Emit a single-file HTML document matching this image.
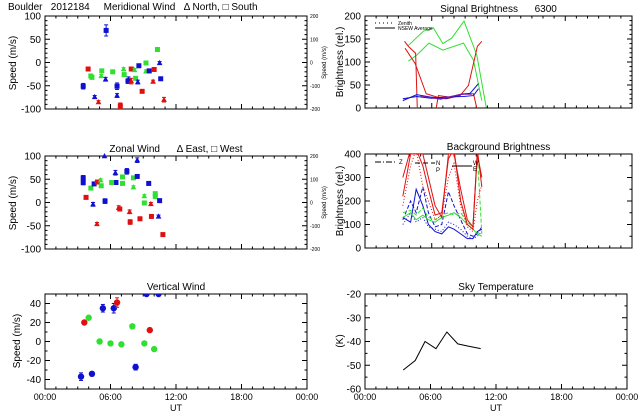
<!DOCTYPE html>
<html><head><meta charset="utf-8"><style>
html,body{margin:0;padding:0;background:#fff;}
svg{display:block;font-family:"Liberation Sans",sans-serif;}
svg text{white-space:pre;}
</style></head><body>
<svg id="chart" width="640" height="420" viewBox="0 0 640 420" xmlns="http://www.w3.org/2000/svg" xml:space="preserve"></svg>
<script>
// ---- data ----
const merT=[3.5,3.95,4.2,4.3,4.55,4.9,5.2,5.15,5.55,5.6,6.2,6.6,6.6,7.2,7.25,6.9,7.6,7.65,7.9,7.9,8.2,8.3,8.5,8.6,8.9,9.25,9.25,9.55,10.0,9.9,10.3,10.5,10.6,10.9];
const merV=[-51,-14,-29,-32,-74,-85,-18,-29,-36,69,-20,-51,-71,-14,-26,-93,-40,-36,-14,-40,-16,-34,-42,-7,-62,-1,-19,-18,-15,-41,28,-1,-35,-80];
const merC=["b","r","g","g","b","r","g","g","b","b","g","b","b","g","g","r","b","b","r","r","g","g","b","b","r","g","g","b","r","r","g","b","b","r"];
const merS=["s","s","s","s","t","t","s","t","t","s","s","s","t","t","s","s","s","t","s","t","t","s","t","s","s","s","t","s","s","t","s","t","s","t"];
const merE=[6,3,3,3,3,3,3,3,4,12,3,7,4,3,3,6,5,5,4,6,3,3,4,3,3,3,3,4,3,3,4,3,3,5];

const zonT=[3.5,3.5,3.76,4.2,4.4,4.5,4.8,4.76,5.1,5.15,5.5,5.45,6.45,6.5,6.1,6.75,6.85,7.1,7.1,7.5,7.75,7.8,8.1,8.1,8.45,8.45,8.7,9.1,9.1,9.5,9.7,9.75,10.1,10.1,10.5,10.4,10.8];
const zonV=[53,43,11,31,-4,40,44,-46,48,36,3,100,64,43,43,-11,-14,55,41,67,-20,-42,53,33,56,91,-35,14,-1,41,-3,-30,19,13,4,-30,-69];
const zonC=["b","b","r","g","b","b","r","r","g","g","b","b","b","b","g","r","r","g","g","b","r","r","g","g","b","b","r","g","g","b","r","r","g","g","b","b","r"];
const zonS=["s","s","s","s","t","s","s","t","t","s","s","t","t","s","s","t","s","s","s","s","t","s","s","t","s","t","s","t","s","s","t","s","s","s","s","t","s"];
const zonE=[5,5,3,3,4,3,3,3,3,3,5,3,5,3,3,4,3,3,3,6,4,5,3,3,3,5,3,3,3,3,3,3,3,3,3,3,3];

const verT=[3.3,4.3,3.6,4.0,5.3,6.3,6.6,5.0,6.0,7.0,8.3,8.0,9.1,9.6,10.0,9.3,10.4];
const verV=[-37,-34,20,25,35,35,41,0,-2,-3,-27,16,-2,12,-8,50,50];
const verC=["b","b","r","g","b","b","r","g","g","g","b","g","g","r","g","b","b"];
const verE=[4,2,1,1,4,5,5,1,1,1,3,1,1,2,1,1,1];

const skyT=[3.5,4.6,5.5,6.5,7.5,8.5,9.5,10.6];
const skyV=[-52,-48,-40,-43,-36,-41,-42,-43];

const sigGreen1T=[3.9,5.25,6.15,7.0,7.8,8.9,10.05,10.9];
const sigGreen1V=[136,167,174,140,152,189,115,1];
const sigGreen2T=[3.9,4.65,5.75,7.0,8.85,9.75,10.5];
const sigGreen2V=[102,115,141,126,141,104,16];
const sigRed1T=[3.55,3.9,4.55,4.7];
const sigRed1V=[145,134,119,0];
const sigRed2T=[3.6,4.5,5.5,6.45,7.35,8.55,9.3,10.1,10.5];
const sigRed2V=[130,97,31,24,20,27,49,134,145];
const sigRed3T=[6.4,6.6,7.5,8.85,9.75,10.05];
const sigRed3V=[0,27,24,31,31,0];
const sigBlue1T=[3.4,4.65,5.85,7.2,8.55,9.45,10.2];
const sigBlue1V=[16,29,24,20,29,32,53];
const sigBlue2T=[3.4,4.65,6.0,7.35,8.85,9.75,10.2];
const sigBlue2V=[20,25,21,24,25,27,42];
const sigPurpT=[5.0,6.0,6.8,7.6,8.6,9.6];
const sigPurpV=[26,22,19,24,30,30];

const bgT=[3.4,4.1,4.6,5.2,5.7,6.3,6.9,7.5,8.0,8.6,9.2,9.7,10.1,10.5];
const bgRed1=[220,400,400,400,300,180,130,400,400,250,120,90,400,300];
const bgRed2=[300,420,420,350,250,140,150,380,420,200,100,80,420,260];
const bgRed3=[180,350,420,260,200,120,140,300,360,180,90,70,200,270];
const bgBlue1=[130,110,250,180,100,70,60,90,80,60,40,40,70,80];
const bgBlue2=[120,200,150,260,150,90,100,240,180,120,60,50,60,90];
const bgBlue3=[100,150,110,130,90,80,70,110,100,80,50,40,50,70];
const bgGreen1=[150,160,140,170,130,120,140,150,140,150,110,90,400,60];
const bgGreen2=[130,150,120,140,120,110,130,140,150,130,100,80,60,50];

const xTickLabels=["00:00","06:00","12:00","18:00","00:00"];
const merTicks=[100,50,0,-50,-100];
const merRTicks=["200","100","0","-100","-200"];
const verTicks=[40,20,0,-20,-40];
const sigTicks=[200,150,100,50,0];
const bgTicks=[400,300,200,100,0];
const skyTicks=[-20,-30,-40,-50,-60];

// ---- drawing ----
const NS="http://www.w3.org/2000/svg";
const svg=document.getElementById("chart");
const COL={r:"#e01010",g:"#30e030",b:"#1010d0",p:"#8020a0",k:"#000"};
function el(tag,attrs,parent){const e=document.createElementNS(NS,tag);for(const k in attrs)e.setAttribute(k,attrs[k]);(parent||svg).appendChild(e);return e;}
function txt(x,y,s,size,anchor,parent,rot){const t=el("text",{x:x,y:y,"font-size":size,"text-anchor":anchor||"start",fill:"#000"},parent);if(rot)t.setAttribute("transform","rotate(-90 "+x+" "+y+")");t.textContent=s;return t;}

function panel(name,x0,x1,y0,y1,ymin,ymax,yTicks,minorStep,title,showX){
  const g=el("g",{});
  
  
  const P={g,x0,x1,y0,y1,ymin,ymax,
    sx:h=>x0+(h/24)*(x1-x0),
    sy:v=>y1-(v-ymin)/(ymax-ymin)*(y1-y0)};
  const fr=el("rect",{x:x0,y:y0,width:x1-x0,height:y1-y0,fill:"none",stroke:"#000","stroke-width":1},g);
  
  
  for(let h=0;h<=24;h++){const X=P.sx(h);const L=(h%6===0)?5:2.5;
    el("line",{x1:X,x2:X,y1:y1,y2:y1-L,stroke:"#000"},g);el("line",{x1:X,x2:X,y1:y0,y2:y0+L,stroke:"#000"},g);}
  for(let v=ymin;v<=ymax+1e-9;v+=minorStep){const Y=P.sy(v);
    const major=yTicks.some(t=>Math.abs(t-v)<1e-6);const L=major?5:2.5;
    el("line",{x1:x0,x2:x0+L,y1:Y,y2:Y,stroke:"#000"},g);el("line",{x1:x1,x2:x1-L,y1:Y,y2:Y,stroke:"#000"},g);}
  const yl=el("g",{},g);
  
  
  yTicks.forEach(t=>txt(x0-4,P.sy(t)+3.5,String(t),10,"end",yl));
  if(showX){const xl=el("g",{},g);
    
    
    xTickLabels.forEach((s,i)=>txt(P.sx(i*6),y1+11,s,9,"middle",xl));
    const ut=txt((x0+x1)/2,y1+22,"UT",9,"middle",g);
    
    }
  if(title){const tt=txt((x0+x1)/2,y0-4,title,10,"middle",g);
    
    }
  return P;
}
function marker(P,t,v,c,s,e,parent){
  const X=P.sx(t),Y=P.sy(Math.max(P.ymin,Math.min(P.ymax,v)));const col=COL[c];
  if(e>1){const e1=P.sy(Math.min(P.ymax,v+e)),e2=P.sy(Math.max(P.ymin,v-e));
    el("line",{x1:X,x2:X,y1:e1,y2:e2,stroke:col},parent);
    el("line",{x1:X-2,x2:X+2,y1:e1,y2:e1,stroke:col},parent);
    el("line",{x1:X-2,x2:X+2,y1:e2,y2:e2,stroke:col},parent);}
  let m;
  if(s==="t")m=el("polygon",{points:(X-2)+","+(Y+1.7)+" "+(X+2)+","+(Y+1.7)+" "+X+","+(Y-2),fill:col,stroke:col},parent);
  else if(s==="c")m=el("circle",{cx:X,cy:Y,r:3.2,fill:col},parent);
  else m=el("rect",{x:X-2,y:Y-2,width:4,height:4,fill:col,stroke:col},parent);
  
  
}
function line(P,T,V,c,dash,parent){
  const pts=T.map((t,i)=>P.sx(t)+","+P.sy(V[i])).join(" ");
  const l=el("polyline",{points:pts,fill:"none",stroke:COL[c],"stroke-width":1},parent);
  if(dash)l.setAttribute("stroke-dasharray",dash);
  
  
  return l;
}
function rightAxis(P,labels){
  const g=el("g",{},P.g);
  
  
  labels.forEach((s,i)=>txt(P.x1+3,P.y0+2+i*(P.y1-P.y0)/4,s,5,"start",g));
  txt(P.x1+19,(P.y0+P.y1)/2,"Speed (m/s)",6,"middle",g,true);
}
function clipFor(P,id){const cp=el("clipPath",{id});el("rect",{x:P.x0,y:P.y0,width:P.x1-P.x0,height:P.y1-P.y0},cp);return "url(#"+id+")";}

// Meridional
const P1=panel("meridional-wind-panel",45,307,16,109,-100,100,merTicks,10,"",false);
const t1=txt(8,10,"Boulder   2012184     Meridional Wind   \u0394 North, \u25A1 South",10,"start",P1.g);


txt(16,63,"Speed (m/s)",10,"middle",P1.g,true);
rightAxis(P1,merRTicks);
const m1=el("g",{},P1.g);


merT.forEach((t,i)=>marker(P1,t,merV[i],merC[i],merS[i],merE[i],m1));

// Zonal
const P2=panel("zonal-wind-panel",45,307,156,249,-100,100,merTicks,10,"Zonal Wind      \u0394 East, \u25A1 West",false);
txt(16,203,"Speed (m/s)",10,"middle",P2.g,true);
rightAxis(P2,merRTicks);
const m2=el("g",{},P2.g);


zonT.forEach((t,i)=>marker(P2,t,zonV[i],zonC[i],zonS[i],zonE[i],m2));

// Vertical
const P3=panel("vertical-wind-panel",45,307,294,389,-50,50,verTicks,10,"Vertical Wind",true);
txt(20,341,"Speed (m/s)",10,"middle",P3.g,true);
const m3=el("g",{"clip-path":clipFor(P3,"c3")},P3.g);


verT.forEach((t,i)=>marker(P3,t,verV[i],verC[i],"c",verE[i],m3));

// Signal brightness
const P4=panel("signal-brightness-panel",365,632,16,108,0,200,sigTicks,10,"Signal Brightness      6300",false);
txt(343,62,"Brightness (rel.)",10,"middle",P4.g,true);
const l4=el("g",{"clip-path":clipFor(P4,"c4")},P4.g);
line(P4,sigGreen1T,sigGreen1V,"g",null,l4);line(P4,sigGreen2T,sigGreen2V,"g",null,l4);
line(P4,sigRed1T,sigRed1V,"r",null,l4);line(P4,sigRed2T,sigRed2V,"r",null,l4);line(P4,sigRed3T,sigRed3V,"r",null,l4);
line(P4,sigBlue1T,sigBlue1V,"b",null,l4);line(P4,sigBlue2T,sigBlue2V,"b",null,l4);line(P4,sigPurpT,sigPurpV,"p",null,l4);
const lg=el("g",{},P4.g);


el("line",{x1:375,x2:395,y1:23,y2:23,stroke:"#000","stroke-dasharray":"1,3"},lg);
txt(398,25,"Zenith",5,"start",lg);
el("line",{x1:375,x2:395,y1:28,y2:28,stroke:"#000"},lg);
txt(398,30,"NSEW Average",5,"start",lg);

// Background brightness
const P5=panel("background-brightness-panel",365,632,154,248,0,400,bgTicks,50,"Background Brightness",false);
txt(343,201,"Brightness (rel.)",10,"middle",P5.g,true);
const l5=el("g",{"clip-path":clipFor(P5,"c5")},P5.g);
line(P5,bgT,bgBlue1,"b",null,l5);line(P5,bgT,bgBlue2,"b","4,2",l5);line(P5,bgT,bgBlue3,"b","1,2",l5);
line(P5,bgT,bgGreen1,"g","4,2",l5);line(P5,bgT,bgGreen2,"g",null,l5);
line(P5,bgT,bgRed1,"r",null,l5);line(P5,bgT,bgRed2,"r",null,l5);line(P5,bgT,bgRed3,"r","1,2",l5);
const lg2=el("g",{},P5.g);


el("line",{x1:375,x2:395,y1:162,y2:162,stroke:"#000","stroke-dasharray":"6,2,1,2"},lg2);
txt(399,164,"Z",6,"start",lg2);
el("line",{x1:415,x2:435,y1:163,y2:163,stroke:"#000","stroke-dasharray":"5,3"},lg2);
txt(436,165,"N",6,"start",lg2);txt(436,172,"P",6,"start",lg2);
el("line",{x1:452,x2:472,y1:166,y2:166,stroke:"#000"},lg2);
txt(473,165,"W",6,"start",lg2);txt(473,171,"E",6,"start",lg2);

// Sky temperature
const P6=panel("sky-temperature-panel",365,627,294,389,-60,-20,skyTicks,5,"Sky Temperature",true);
txt(343,341,"(K)",10,"middle",P6.g,true);
line(P6,skyT,skyV,"k",null,P6.g);
</script>
</body></html>
